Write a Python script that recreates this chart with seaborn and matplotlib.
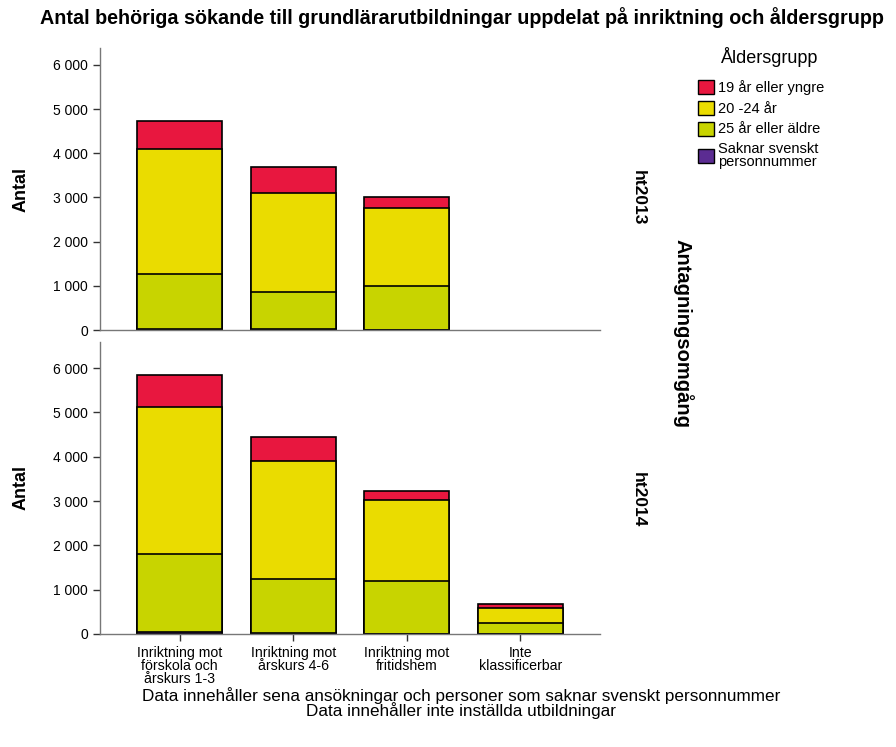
import matplotlib
matplotlib.use("Agg")
import matplotlib.pyplot as plt
import pandas as pd
import seaborn as sns
from matplotlib.patches import Patch
from matplotlib.ticker import FuncFormatter

categories = [
    "Inriktning mot\nförskola och\nårskurs 1-3",
    "Inriktning mot\nårskurs 4-6",
    "Inriktning mot\nfritidshem",
    "Inte\nklassificerbar",
]
rounds = ["ht2013", "ht2014"]
age_groups = ["19 år eller yngre", "20 -24 år", "25 år eller äldre", "Saknar svenskt\npersonnummer"]
age_colors = ["#e8173f", "#eadc00", "#c8d400", "#5b2c92"]

# segment values per round (Inte klassificerbar missing in ht2013)
saknar = {"ht2013": [30, 20, 5, 0], "ht2014": [50, 30, 5, 2]}
aldre25 = {"ht2013": [1240, 840, 990, 0], "ht2014": [1755, 1210, 1190, 253]}
age20_24 = {"ht2013": [2830, 2240, 1765, 0], "ht2014": [3325, 2665, 1830, 340]}
yngre19 = {"ht2013": [635, 590, 250, 0], "ht2014": [720, 545, 210, 75]}

sns.set_style("white")
plt.rcParams["font.family"] = ["Liberation Sans", "DejaVu Sans"]
plt.rcParams.update({"text.color": "black", "axes.labelcolor": "black",
                     "xtick.color": "black", "ytick.color": "black"})

fig = plt.figure(figsize=(8.96, 7.47), dpi=100)
ax_top = fig.add_axes([0.1116, 0.5582, 0.558, 0.3775])
ax_bot = fig.add_axes([0.1116, 0.1513, 0.558, 0.391])
panels = [(ax_top, "ht2013", 6380, 0.47), (ax_bot, "ht2014", 6590, 0.46)]

thousands = FuncFormatter(lambda v, p: f"{int(v):,}".replace(",", " "))

for ax, rnd, ytop, ypos in panels:
    df = pd.DataFrame({
        "kategori": categories,
        "s": saknar[rnd],
        "g": aldre25[rnd],
        "y": age20_24[rnd],
        "r": yngre19[rnd],
    })
    # cumulative heights, drawn tallest first so each layer overlays the one above
    df["c_s"] = df["s"]
    df["c_g"] = df["c_s"] + df["g"]
    df["c_y"] = df["c_g"] + df["y"]
    df["c_r"] = df["c_y"] + df["r"]
    df = df[df["c_r"] > 0]
    for col, color in zip(["c_r", "c_y", "c_g", "c_s"], age_colors):
        sns.barplot(data=df, x="kategori", y=col, order=categories, color=color,
                    edgecolor="black", linewidth=1.2, width=0.75, saturation=1,
                    ax=ax)
    ax.set_xlim(-0.7, 3.7)
    ax.set_ylim(0, ytop)
    ax.set_yticks(range(0, 6001, 1000))
    ax.yaxis.set_major_formatter(thousands)
    ax.set_ylabel("Antal", fontsize=13, fontweight="bold", labelpad=17)
    ax.set_xlabel("")
    for side in ["top", "right"]:
        ax.spines[side].set_visible(False)
    for side in ["left", "bottom"]:
        ax.spines[side].set_color("#777777")
        ax.spines[side].set_linewidth(1)
    ax.tick_params(axis="y", length=5, width=1, color="#333333", labelsize=10, left=True)
    ax.text(1.076, ypos, rnd, transform=ax.transAxes, rotation=-90, fontsize=12.5,
            fontweight="bold", ha="center", va="center")

ax_top.set_xticks([])
ax_bot.tick_params(axis="x", length=5, width=1, color="#333333", bottom=True)
ax_bot.set_xticks(range(len(categories)))
ax_bot.set_xticklabels(categories, fontsize=10.2, linespacing=0.9)

fig.text(0.762, 0.553, "Antagningsomgång", rotation=-90, fontsize=14.5, fontweight="bold",
         ha="center", va="center")
fig.text(0.515, 0.977, "Antal behöriga sökande till grundlärarutbildningar uppdelat på inriktning och åldersgrupp",
         fontsize=14.2, fontweight="bold", ha="center", va="center")
fig.text(0.515, 0.059, "Data innehåller sena ansökningar och personer som saknar svenskt personnummer\n"
         "Data innehåller inte inställda utbildningar",
         fontsize=12.3, ha="center", va="center", linespacing=0.9)

fig.text(0.859, 0.924, "Åldersgrupp", fontsize=13, ha="center", va="center")
handles = [Patch(facecolor=c, edgecolor="black", linewidth=1) for c in age_colors]
leg = fig.legend(handles, age_groups, loc="upper left",
                 bbox_to_anchor=(0.779, 0.893), frameon=False, fontsize=10.5,
                 handlelength=1.1, handleheight=1.1, borderpad=0, borderaxespad=0,
                 handletextpad=0.3, labelspacing=0.4)
for t in leg.get_texts():
    t.set_linespacing(0.9)

fig.savefig("out.png", dpi=100)
